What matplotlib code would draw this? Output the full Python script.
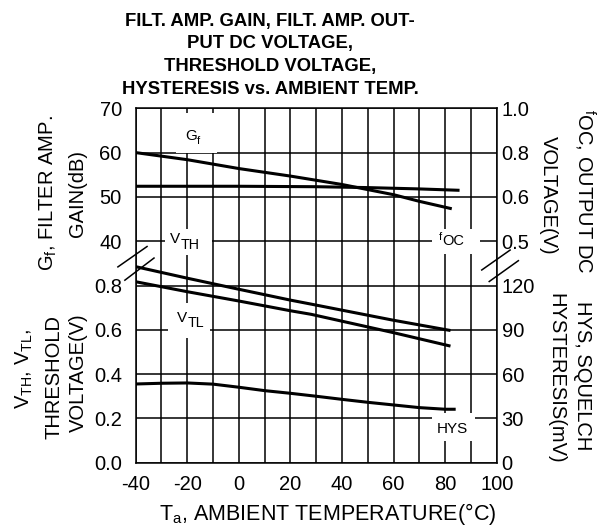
import matplotlib
matplotlib.use('Agg')
import matplotlib.pyplot as plt
from matplotlib.patches import Rectangle
from matplotlib.lines import Line2D
import numpy as np

plt.rcParams['font.family'] = ['Liberation Sans', 'DejaVu Sans']
plt.rcParams['mathtext.fontset'] = 'custom'
plt.rcParams['mathtext.rm'] = 'Liberation Sans'
plt.rcParams['mathtext.it'] = 'Liberation Sans:italic'
plt.rcParams['mathtext.bf'] = 'Liberation Sans:bold'
plt.rcParams['axes.unicode_minus'] = False

# ---------------- data ----------------
temp_gf = [-40, -20, 0, 20, 40, 60, 70, 82]
gain_gf = [60.0, 58.4, 56.4, 54.7, 52.8, 50.5, 49.0, 47.4]          # dB

temp_foc = [-40, 0, 30, 50, 70, 85]
volt_foc = [0.648, 0.648, 0.646, 0.642, 0.636, 0.630]              # V

temp_vth = [-40, -20, 0, 20, 28, 60, 81.5]
volt_vth = [0.885, 0.833, 0.783, 0.734, 0.716, 0.643, 0.598]       # V

temp_vtl = [-40, -20, 0, 20, 28, 60, 81.5]
volt_vtl = [0.817, 0.772, 0.730, 0.686, 0.670, 0.587, 0.528]       # V

temp_hys = [-40, -30, -20, -10, 0, 10, 20, 30, 40, 50, 60, 70, 80, 83.5]
hys_mv = [53.3, 53.8, 54.0, 53.2, 51.1, 48.8, 47.0, 45.0, 42.9, 40.9, 39.1, 37.3, 36.2, 36.2]

x_ticks = [-40, -20, 0, 20, 40, 60, 80, 100]
left_tick_labels = ['0.0', '0.2', '0.4', '0.6', '0.8', '40', '50', '60', '70']
right_tick_labels = ['0', '30', '60', '90', '120', '0.5', '0.6', '0.8', '1.0']

title_lines = ['FILT. AMP. GAIN, FILT. AMP. OUT-', 'PUT DC VOLTAGE,',
               'THRESHOLD VOLTAGE,', 'HYSTERESIS vs. AMBIENT TEMP.']


# ------------- value -> grid-row mapping (8 rows, broken scales) -------------
def gain_row(g):
    return 5 + (np.asarray(g) - 40) / 10.0


def thr_row(v):
    return np.asarray(v) / 0.2


def foc_row(v):
    v = np.asarray(v, dtype=float)
    return np.where(v >= 0.6, 6 + (v - 0.6) / 0.2, 5 + (v - 0.5) / 0.1)


def hys_row(h):
    return np.asarray(h) / 30.0


W, H = 605, 529
fig = plt.figure(figsize=(W / 100, H / 100), dpi=100)


def P(x, y):
    return (x / W, 1 - y / H)


L, R, T, B = 135.7, 496.7, 108.3, 462.7
ax = fig.add_axes([L / W, 1 - B / H, (R - L) / W, (B - T) / H])
ax.set_xlim(-40, 100)
ax.set_ylim(0, 8)

xt = list(range(-40, 101, 10))
ax.set_xticks(xt)
ax.set_xticklabels([str(t) if t in x_ticks else '' for t in xt])
ax.set_yticks(range(9))
ax.set_yticklabels(left_tick_labels)
ax.tick_params(axis='both', length=0, labelsize=14.5)
ax.tick_params(axis='y', pad=10)
ax.tick_params(axis='x', pad=8.5)
ax.set_axisbelow(True)
ax.grid(True, color='black', lw=1.1)
for s in ax.spines.values():
    s.set_linewidth(1.1)

ax2 = ax.twinx()
ax2.set_ylim(0, 8)
ax2.set_yticks(range(9))
ax2.set_yticklabels(right_tick_labels)
ax2.tick_params(axis='y', length=0, labelsize=14.5, pad=3.5)
ax2.set_frame_on(False)

lw = 2.2
ax.plot(temp_gf, gain_row(gain_gf), color='black', lw=lw, zorder=3)
ax.plot(temp_foc, foc_row(volt_foc), color='black', lw=lw, zorder=3)
ax.plot(temp_vth, thr_row(volt_vth), color='black', lw=lw, zorder=3)
ax.plot(temp_vtl, thr_row(volt_vtl), color='black', lw=lw, zorder=3)
ax.plot(temp_hys, hys_row(hys_mv), color='black', lw=lw, zorder=3)

# white backgrounds of the curve labels (interrupt the grid)
for (x0, x1, y0, y1) in [(-24.5, -8.4, 6.98, 7.89), (-28.6, -10.5, 4.69, 5.28),
                         (-27.6, -11.2, 2.81, 3.60), (74.8, 93.5, 4.70, 5.27),
                         (74.8, 91.6, 0.50, 1.12)]:
    ax.add_patch(Rectangle((x0, y0), x1 - x0, y1 - y0, facecolor='white',
                           edgecolor='none', zorder=1))


def sub_label(x, y, main, sub, msize, ssize, drop):
    t = ax.text(x, y, main, fontsize=msize, ha='left', va='baseline', zorder=5)
    ax.annotate(sub, xy=(1, 0), xycoords=t, xytext=(0.3, -drop),
                textcoords='offset points', fontsize=ssize, ha='left',
                va='bottom', zorder=5)


sub_label(-20.9, 7.284, 'G', 'f', 11, 8, 2.4)
sub_label(-26.7, 4.953, 'V', 'TH', 11, 10.3, 4.1)
sub_label(-24.1, 3.183, 'V', 'TL', 11, 10.3, 4.1)
sub_label(77.7, 5.027, 'f', 'OC', 8, 10.5, 4.6)
ax.text(76.7, 0.677, 'HYS', fontsize=11, ha='left', va='baseline', zorder=5)

# axis break marks
for (xa, xb, ya, yb) in [(-46.9, -35.6, 4.42, 4.88), (-44.2, -32.9, 4.12, 4.62),
                         (94.2, 105.2, 4.35, 4.80), (97.1, 108.4, 4.09, 4.56)]:
    ax.add_line(Line2D([xa, xb], [ya, yb], color='black', lw=1.1,
                       clip_on=False, zorder=6))

# title
for yb_, line in zip([25.7, 48.3, 71.0, 94.3], title_lines):
    fig.text(*P(270, yb_), line, ha='center', va='baseline', fontsize=13.3,
             fontweight='bold')

# axis labels
fs = 14.5
kw = dict(ha='center', va='baseline', rotation_mode='anchor', fontsize=fs)
fig.text(*P(53.3, 193.3), r'G$_\mathrm{f}$, FILTER AMP.', rotation=90, **kw)
fig.text(*P(82.5, 193.3), 'GAIN(dB)', rotation=90, **kw)
fig.text(*P(29.3, 369), r'V$_\mathrm{TH}$, V$_\mathrm{TL}$,', rotation=90, **kw)
fig.text(*P(59.5, 376.7), 'THRESHOLD', rotation=90, **kw)
fig.text(*P(84.3, 372.5), 'VOLTAGE(V)', rotation=90, **kw)

fig.text(*P(576.7, 191.7), r'${}^\mathrm{f}$OC, OUTPUT DC', rotation=-90, **kw)
fig.text(*P(543.3, 195.8), 'VOLTAGE(V)', rotation=-90, **kw)
fig.text(*P(576.7, 376), 'HYS, SQUELCH', rotation=-90, **kw)
fig.text(*P(550.7, 378), 'HYSTERESIS(mV)', rotation=-90, **kw)

fig.text(*P(327.5, 520), r'T$_\mathrm{a}$, AMBIENT TEMPERATURE(°C)',
         ha='center', va='baseline', fontsize=15.5)

fig.savefig('out.png', dpi=100)
